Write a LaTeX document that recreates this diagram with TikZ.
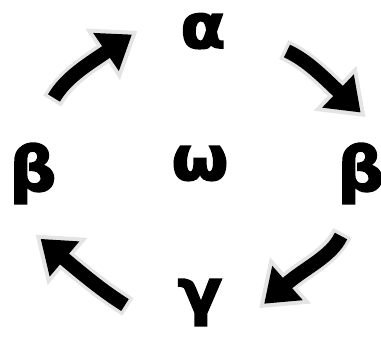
\documentclass[tikz,border=0pt]{standalone}
\usepackage{fontspec}
\newfontfamily\greekfont{DejaVu Sans Bold}[FakeBold=2.5, FakeStretch=1.06]
\usetikzlibrary{calc}
\definecolor{halo}{RGB}{228,228,228}
\tikzset{
  letter/.style={font=\greekfont\fontsize{62}{62}\selectfont, inner sep=0pt, anchor=base},
  arrowbody/.style={line width=14pt, line cap=butt, shorten >=-3pt},
  halobody/.style={line width=21pt, color=halo, line cap=butt, shorten <=-3.5pt},
  halohead/.style={draw=halo, fill=halo, line width=8pt, line join=miter},
}
\newcommand\curvedarr[5]{%
  \coordinate (#1t) at #2;
  \coordinate (#1a) at #3;
  \coordinate (#1b) at #4;
  \coordinate (#1e) at #5;
  \coordinate (#1tip) at ($(#1e)!-31pt!(#1b)$);
  \coordinate (#1l) at ($(#1e)!23pt!90:(#1b)$);
  \coordinate (#1r) at ($(#1e)!23pt!-90:(#1b)$);
  \draw[halobody] (#1t) .. controls (#1a) and (#1b) .. (#1e);
  \path[halohead] (#1tip) -- (#1l) -- (#1r) -- cycle;
}
\newcommand\curvedarrblack[1]{%
  \draw[arrowbody] (#1t) .. controls (#1a) and (#1b) .. (#1e);
  \fill (#1tip) -- (#1l) -- (#1r) -- cycle;
}
\begin{document}
\begin{tikzpicture}[x=1pt,y=-1pt]
\useasboundingbox (0,0) rectangle (381,338);
\curvedarr{A}{(54,98)}{(65.5,78)}{(87,64.8)}{(106,52)}
\curvedarr{B}{(287,51)}{(307,60.3)}{(322,75.8)}{(338,91)}
\curvedarr{C}{(341,236)}{(331.3,256.8)}{(304.7,267.7)}{(287.5,283)}
\curvedarr{D}{(125,305)}{(103.8,291.8)}{(83.6,275.1)}{(64.5,259)}
\curvedarrblack{A}
\curvedarrblack{B}
\curvedarrblack{C}
\curvedarrblack{D}
\node[letter] (alpha) at (203,48) {α};
\node[letter] (omega) at (200,180) {ω};
\node[letter] (betaL) at (33,191) {β};
\node[letter] (betaR) at (361,191) {β};
\node[letter] (gamma) at (200,313) {γ};
\end{tikzpicture}
\end{document}
